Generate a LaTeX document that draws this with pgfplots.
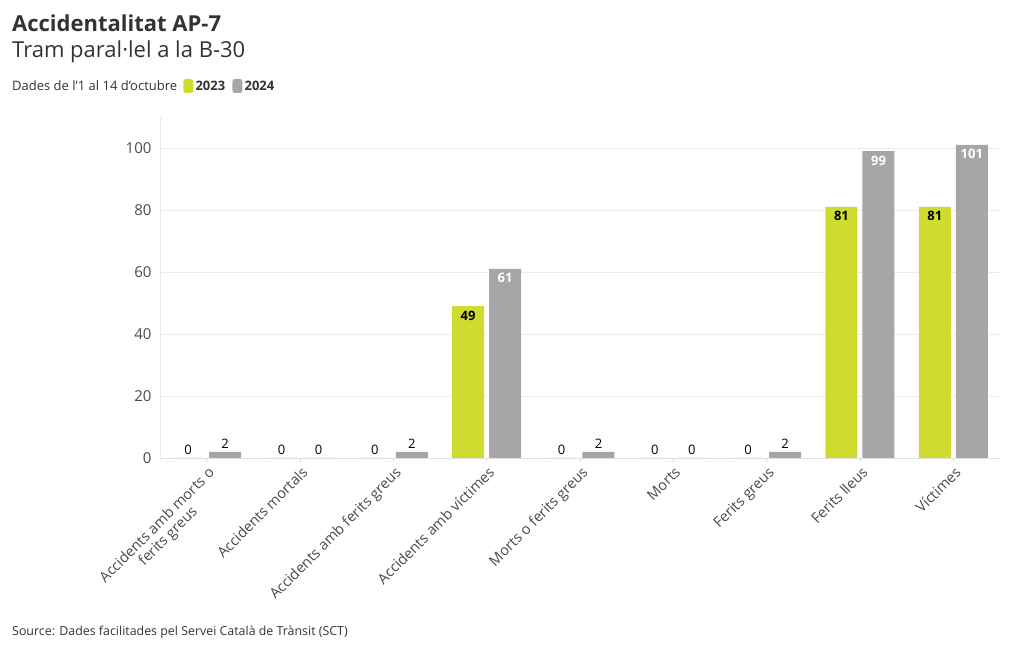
\documentclass[border=0pt]{standalone}
\usepackage{pgfplots}
\pgfplotsset{compat=1.18}
\usepackage{fontspec}
\setmainfont{Open Sans}
\definecolor{cA}{HTML}{D0DB30}
\definecolor{cB}{HTML}{A7A5A8}
\definecolor{gridc}{HTML}{EBEBEB}
\definecolor{txt}{HTML}{4A4A4A}
\definecolor{ttl}{HTML}{333333}
\begin{document}
\begin{tikzpicture}
\path[use as bounding box] (-160pt,-192pt) rectangle (860pt,458pt);
\begin{axis}[
  scale only axis, width=840pt, height=341pt,
  xmin=-0.5, xmax=8.5, ymin=0, ymax=110,
  xtick={0,...,8},
  xticklabels={{Accidents amb morts o\\ferits greus},Accidents mortals,Accidents amb ferits greus,Accidents amb víctimes,Morts o ferits greus,Morts,Ferits greus,Ferits lleus,Víctimes},
  ytick={0,20,...,100},
  ymajorgrids, grid style={draw=gridc, line width=0.7pt},
  axis x line=bottom, axis y line=left,
  axis line style={-, draw=gridc, line width=0.8pt},
  x axis line style={draw=gridc!70!gray!60},
  xtick style={draw=gridc!60!gray!60, line width=0.6pt},
  ytick style={draw=none},
  tick align=outside, major tick length=4pt,
  /pgf/number format/assume math mode=true,
  yticklabel style={font=\fontsize{15}{17}\selectfont, text=txt, xshift=-1pt},
  xticklabel style={font=\fontsize{14.5}{15.5}\selectfont, text=txt, rotate=45, anchor=north east, align=center, inner sep=2pt, yshift=-1pt},
  clip=false,
]
% 2023 small values
\addplot[ybar, bar width=32pt, bar shift=-18.5pt, fill=cA, draw=none,
  nodes near coords, every node near coord/.append style={font=\fontsize{13}{13}\selectfont, text=black, anchor=south, xshift=-18.5pt, yshift=0pt}]
  coordinates {(0,0) (1,0) (2,0) (4,0) (5,0) (6,0)};
% 2023 large values
\addplot[ybar, bar width=32pt, bar shift=-18.5pt, fill=cA, draw=none,
  nodes near coords, every node near coord/.append style={font=\fontsize{13}{13}\selectfont\bfseries, text=black, anchor=north, xshift=-18.5pt, yshift=-1pt}]
  coordinates {(3,49) (7,81) (8,81)};
% 2024 small values
\addplot[ybar, bar width=32pt, bar shift=18.5pt, fill=cB, draw=none,
  nodes near coords, every node near coord/.append style={font=\fontsize{13}{13}\selectfont, text=black, anchor=south, xshift=18.5pt, yshift=0pt}]
  coordinates {(0,2) (1,0) (2,2) (4,2) (5,0) (6,2)};
% 2024 large values
\addplot[ybar, bar width=32pt, bar shift=18.5pt, fill=cB, draw=none,
  nodes near coords, every node near coord/.append style={font=\fontsize{13}{13}\selectfont\bfseries, text=white, anchor=north, xshift=18.5pt, yshift=-1pt}]
  coordinates {(3,61) (7,99) (8,101)};
\end{axis}
\node[anchor=base west, inner sep=0pt, text=ttl, font=\fontsize{22}{24}\selectfont\bfseries] at (-148pt,426pt) {Accidentalitat AP-7};
\node[anchor=base west, inner sep=0pt, text=ttl, font=\fontsize{22}{24}\selectfont] at (-148pt,400pt) {Tram paral·lel a la B-30};
\node[anchor=base west, inner sep=0pt, text=ttl, font=\fontsize{13}{15}\selectfont] (d) at (-148pt,367pt) {Dades de l'1 al 14 d'octubre};
\fill[cA, rounded corners=2.5pt] ([xshift=6pt,yshift=-2pt]d.base east) rectangle ++(10pt,14pt);
\node[anchor=base west, inner sep=0pt, text=ttl, font=\fontsize{13}{15}\selectfont\bfseries] (a) at ([xshift=18pt]d.base east) {2023};
\fill[cB, rounded corners=2.5pt] ([xshift=7pt,yshift=-2pt]a.base east) rectangle ++(10pt,14pt);
\node[anchor=base west, inner sep=0pt, text=ttl, font=\fontsize{13}{15}\selectfont\bfseries] at ([xshift=19pt]a.base east) {2024};
\node[anchor=base west, inner sep=0pt, text=ttl, font=\fontsize{12.4}{14}\selectfont] at (-148pt,-178pt) {Source: Dades facilitades pel Servei Català de Trànsit (SCT)};
\end{tikzpicture}
\end{document}
